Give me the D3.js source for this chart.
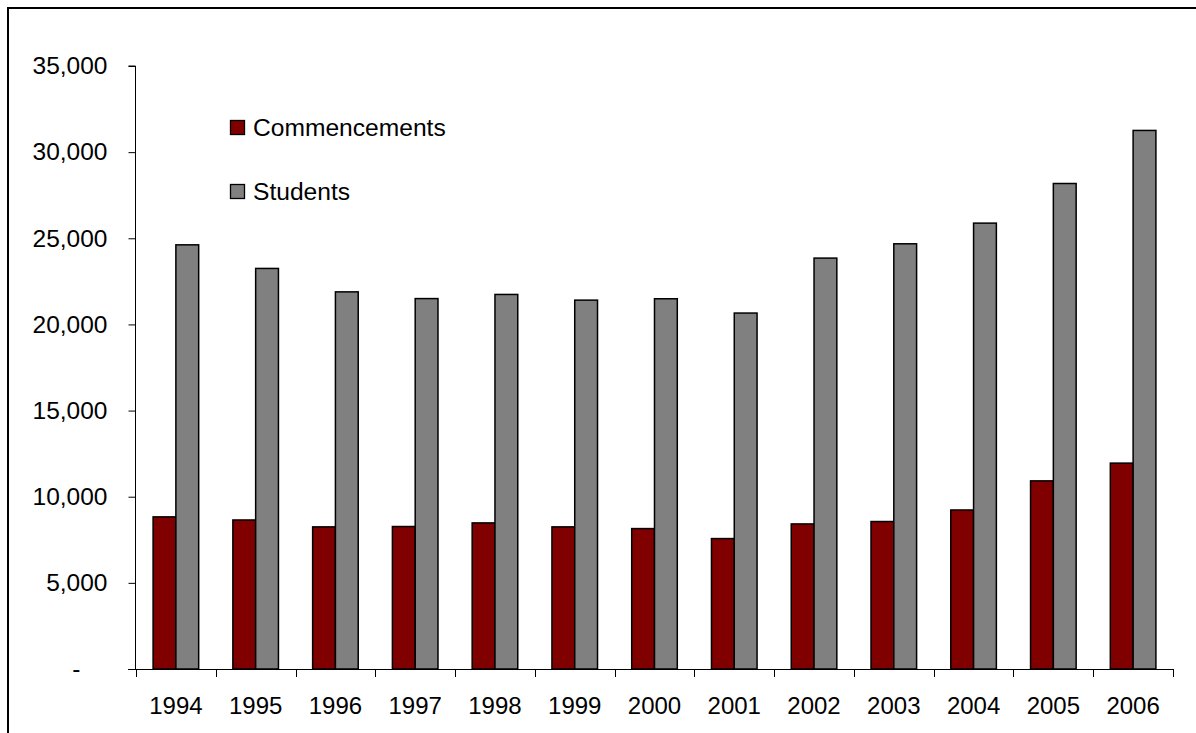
<!DOCTYPE html>
<html>
<head>
<meta charset="utf-8">
<script src="https://cdn.jsdelivr.net/npm/d3@7"></script>
<style>
  html, body { margin: 0; padding: 0; background: #fff; }
  svg { display: block; }
  text { font-family: Arial, "Liberation Sans", sans-serif; fill: #000; }
</style>
</head>
<body>
<svg id="chart" width="1196" height="733"></svg>
<script>
// Apprenticeship data by year
const years = ["1994","1995","1996","1997","1998","1999","2000","2001","2002","2003","2004","2005","2006"];
const seriesNames = ["Commencements", "Students"];
const commencements = [8830, 8650, 8250, 8270, 8480, 8250, 8150, 7570, 8420, 8560, 9230, 10920, 11950];
const students = [24620, 23250, 21890, 21500, 21740, 21410, 21490, 20660, 23850, 24680, 25880, 28180, 31260];
const yTicks = [0, 5000, 10000, 15000, 20000, 25000, 30000, 35000];
const colors = ["#800000", "#808080"];

const svg = d3.select("#chart");
const fontSize = 24;
const legendFontSize = 24.6;

// outer frame (runs past the right and bottom edges)
svg.append("rect")
  .attr("x", 8).attr("y", 8)
  .attr("width", 1210).attr("height", 760)
  .attr("fill", "#fff").attr("stroke", "#000").attr("stroke-width", 2);

const plot = { left: 135, right: 1173, top: 66, bottom: 669 };

const y = d3.scaleLinear().domain([0, 35000]).range([plot.bottom, plot.top]);
const x = d3.scaleBand().domain(years).range([plot.left + 1, plot.right]).paddingInner(0).paddingOuter(0);
const xs = d3.scaleBand().domain(seriesNames).range([0, x.bandwidth()]).paddingInner(0).paddingOuter(0.75);

const rows = years.map((yr, i) => ({ year: yr, values: [commencements[i], students[i]] }));

// bars
const groups = svg.append("g").selectAll("g").data(rows).join("g")
  .attr("transform", d => `translate(${x(d.year)},0)`);
groups.selectAll("rect")
  .data(d => d.values.map((v, j) => ({ name: seriesNames[j], value: v, j })))
  .join("rect")
  .attr("x", d => xs(d.name))
  .attr("width", xs.bandwidth())
  .attr("y", d => y(d.value))
  .attr("height", d => y(0) - y(d.value))
  .attr("fill", d => colors[d.j])
  .attr("stroke", "#000").attr("stroke-width", 1.5);

// y axis
const fmt = d3.format(",");
const yAxis = d3.axisLeft(y).tickValues(yTicks).tickSize(7).tickPadding(21)
  .tickFormat(d => d === 0 ? "-" : fmt(d));
const gy = svg.append("g").attr("transform", `translate(${plot.left + 0.5},0)`).call(yAxis);
gy.select(".domain").attr("stroke", "#000").attr("d", `M-7,${plot.top}H0V${plot.bottom}`);
gy.selectAll(".tick line").attr("stroke", "#000");
gy.selectAll(".tick text")
  .attr("font-size", 24.5).attr("font-family", "Arial, 'Liberation Sans', sans-serif")
  .attr("fill", "#000")
  .attr("dx", d => d === 0 ? -27 : 0);

// x axis: baseline, boundary ticks, centred year labels
const gx = svg.append("g");
gx.append("line")
  .attr("x1", plot.left - 7).attr("x2", plot.right)
  .attr("y1", plot.bottom + 0.5).attr("y2", plot.bottom + 0.5)
  .attr("stroke", "#000");
const bounds = years.map(yr => x(yr)).concat([x(years[years.length - 1]) + x.bandwidth()]);
gx.selectAll("line.bt").data(bounds).join("line")
  .attr("class", "bt")
  .attr("x1", d => Math.round(d) + 0.5).attr("x2", d => Math.round(d) + 0.5)
  .attr("y1", plot.bottom).attr("y2", plot.bottom + 8)
  .attr("stroke", "#000");
gx.selectAll("text").data(years).join("text")
  .attr("x", d => x(d) + x.bandwidth() / 2)
  .attr("y", 714)
  .attr("text-anchor", "middle")
  .attr("font-size", fontSize)
  .text(d => d);

// legend
const legend = svg.append("g");
const legendRows = [{ name: "Commencements", color: colors[0], y: 120 }, { name: "Students", color: colors[1], y: 184 }];
legendRows.forEach(r => {
  legend.append("rect").attr("x", 230.5).attr("y", r.y + 0.5).attr("width", 14).attr("height", 14)
    .attr("fill", r.color).attr("stroke", "#000").attr("stroke-width", 1.3);
  legend.append("text").attr("x", 253).attr("y", r.y + 16).attr("font-size", legendFontSize).text(r.name);
});
</script>
</body>
</html>
